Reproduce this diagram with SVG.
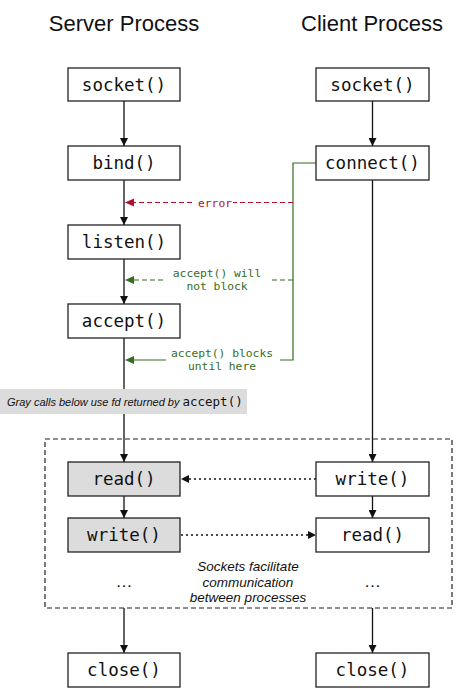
<svg xmlns="http://www.w3.org/2000/svg" width="474" height="689" viewBox="0 0 474 689">
<style>
.box{fill:#fff;stroke:#222;stroke-width:1.3}
.gbox{fill:#dcdcdc;stroke:#222;stroke-width:1.3}
.fn{font-family:"DejaVu Sans Mono",monospace;font-size:17.5px;fill:#111;text-anchor:middle}
.title{font-family:"Liberation Sans",Arial,sans-serif;font-size:22px;fill:#111;text-anchor:middle}
.flow{stroke:#111;stroke-width:1.3;fill:none}
.dot{stroke:#111;stroke-width:1.3;fill:none;stroke-dasharray:2 3}
.err{stroke:#b0102e;stroke-width:1.2;fill:none;stroke-dasharray:5 3}
.grn{stroke:#336e1e;stroke-width:1.2;fill:none}
.grnd{stroke:#336e1e;stroke-width:1.2;fill:none;stroke-dasharray:5 3}
.small{font-family:"DejaVu Sans Mono",monospace;font-size:11.3px;text-anchor:middle}
.it{font-family:"Liberation Sans",Arial,sans-serif;font-style:italic;font-size:13.5px;fill:#111;text-anchor:middle}
.ell{font-family:"Liberation Sans",Arial,sans-serif;font-size:17px;fill:#111;text-anchor:middle}
</style>
<defs>
<marker id="ah" viewBox="0 0 10 10" refX="10" refY="5" markerWidth="8" markerHeight="8" markerUnits="userSpaceOnUse" orient="auto"><path d="M0,0 L10,5 L0,10 z" fill="#111"/></marker>
</defs>
<rect width="474" height="689" fill="#fff"/>
<text class="title" x="124" y="31">Server Process</text>
<text class="title" x="372" y="31">Client Process</text>

<g id="connectors">
<line class="flow" x1="124" y1="101" x2="124" y2="146" marker-end="url(#ah)"/>
<line class="flow" x1="124" y1="180" x2="124" y2="225" marker-end="url(#ah)"/>
<line class="flow" x1="124" y1="259" x2="124" y2="304" marker-end="url(#ah)"/>
<line class="flow" x1="124" y1="338" x2="124" y2="462" marker-end="url(#ah)"/>
<line class="flow" x1="124" y1="496" x2="124" y2="518" marker-end="url(#ah)"/>
<line class="flow" x1="124" y1="608" x2="124" y2="653" marker-end="url(#ah)"/>
<line class="flow" x1="372.5" y1="101" x2="372.5" y2="146" marker-end="url(#ah)"/>
<line class="flow" x1="372.5" y1="180" x2="372.5" y2="462" marker-end="url(#ah)"/>
<line class="flow" x1="372.5" y1="496" x2="372.5" y2="518" marker-end="url(#ah)"/>
<line class="flow" x1="372.5" y1="608" x2="372.5" y2="653" marker-end="url(#ah)"/>
<line class="dot" x1="316" y1="479" x2="181" y2="479" marker-end="url(#ah)"/>
<line class="dot" x1="181" y1="535" x2="316" y2="535" marker-end="url(#ah)"/>
<path class="grn" d="M316,163 H293 V360 H280"/>
<line class="grn" x1="166" y1="360" x2="133" y2="360"/>
<path class="grnd" d="M293,280 H270"/>
<path class="grnd" d="M163,280 H133"/>
<path class="err" d="M293,202.5 H233"/>
<path class="err" d="M192,202.5 H133"/>
<path d="M125,202.5 L134,198.5 L134,206.5 z" fill="#b0102e"/>
<path d="M125,280 L134,276 L134,284 z" fill="#336e1e"/>
<path d="M125,360 L134,356 L134,364 z" fill="#336e1e"/>
</g>

<g id="labels">
<text class="small" x="215" y="206.5" fill="#b0102e">error</text>
<text class="small" x="217" y="277" fill="#336e1e">accept() will</text>
<text class="small" x="217" y="290" fill="#336e1e">not block</text>
<text class="small" x="222" y="357" fill="#336e1e">accept() blocks</text>
<text class="small" x="222" y="370" fill="#336e1e">until here</text>
</g>

<g id="note">
<rect x="0" y="389" width="247" height="25" fill="#dcdcdc"/>
<text x="7" y="405.5" font-family="Liberation Sans,Arial,sans-serif" font-style="italic" font-size="11" fill="#111">Gray calls below use fd returned by <tspan font-family="DejaVu Sans Mono,monospace" font-style="normal" font-size="12.5">accept()</tspan></text>
</g>

<g id="region">
<rect x="45" y="439" width="407" height="169" fill="none" stroke="#222" stroke-width="1.2" stroke-dasharray="5 3"/>
<text class="it" x="248" y="571">Sockets facilitate</text>
<text class="it" x="248" y="587">communication</text>
<text class="it" x="248" y="602">between processes</text>
<text class="ell" x="124" y="587">…</text>
<text class="ell" x="372.5" y="587">…</text>
</g>

<g id="s-socket"><rect class="box" x="68" y="68" width="112" height="33"/><text class="fn" x="124" y="90.5">socket()</text></g>
<g id="s-bind"><rect class="box" x="68" y="146" width="112" height="34"/><text class="fn" x="124" y="169">bind()</text></g>
<g id="s-listen"><rect class="box" x="68" y="225" width="112" height="34"/><text class="fn" x="124" y="248">listen()</text></g>
<g id="s-accept"><rect class="box" x="68" y="304" width="112" height="34"/><text class="fn" x="124" y="327">accept()</text></g>
<g id="s-read"><rect class="gbox" x="68" y="462" width="112" height="34"/><text class="fn" x="124" y="485">read()</text></g>
<g id="s-write"><rect class="gbox" x="68" y="518" width="112" height="34"/><text class="fn" x="124" y="541">write()</text></g>
<g id="s-close"><rect class="box" x="68" y="653" width="112" height="34"/><text class="fn" x="124" y="676">close()</text></g>

<g id="c-socket"><rect class="box" x="316" y="68" width="113" height="33"/><text class="fn" x="372.5" y="90.5">socket()</text></g>
<g id="c-connect"><rect class="box" x="316" y="146" width="113" height="34"/><text class="fn" x="372.5" y="169">connect()</text></g>
<g id="c-write"><rect class="box" x="316" y="462" width="113" height="34"/><text class="fn" x="372.5" y="485">write()</text></g>
<g id="c-read"><rect class="box" x="316" y="518" width="113" height="34"/><text class="fn" x="372.5" y="541">read()</text></g>
<g id="c-close"><rect class="box" x="316" y="653" width="113" height="34"/><text class="fn" x="372.5" y="676">close()</text></g>
</svg>
